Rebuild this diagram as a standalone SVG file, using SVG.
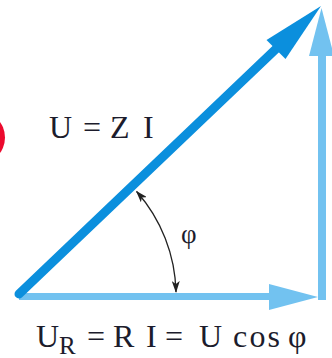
<svg xmlns="http://www.w3.org/2000/svg" width="332" height="358" viewBox="0 0 332 358">
<style>
.t{font-family:"Liberation Serif","Times New Roman",serif;fill:#1c1c2c;font-size:32px}
.light{stroke:#72c2f0;fill:none}
.lighth{fill:#72c2f0}
.dark{stroke:#0b8fdd;fill:none}
.darkh{fill:#0b8fdd}
.arc{stroke:#222;stroke-width:1.3;fill:none}
</style>
<defs>
<marker id="ah" viewBox="0 0 12 8" refX="11" refY="4" markerWidth="12" markerHeight="8" markerUnits="userSpaceOnUse" orient="auto-start-reverse">
<path d="M0,0 L12,4 L0,8 L3,4 Z" fill="#222"/>
</marker>
</defs>
<rect width="332" height="358" fill="#fff"/>
<circle id="red-mark" cx="-21.5" cy="137.5" r="26.5" fill="#ec0a2e"/>
<g id="connectors">
<g id="ur-vector">
<line class="light" x1="19" y1="296.5" x2="272" y2="296.5" stroke-width="7"/>
<polygon class="lighth" points="269,284 318,297 269,310"/>
</g>
<g id="ux-vector">
<line class="light" x1="322" y1="300" x2="322" y2="53" stroke-width="8"/>
<polygon class="lighth" points="309,56 321.5,8 334,56"/>
</g>
<g id="u-vector">
<line class="dark" x1="19" y1="294" x2="278" y2="47" stroke-width="9" stroke-linecap="round"/>
<polygon class="darkh" points="321,6 285.5,59 266.5,40"/>
</g>
<path id="angle-arc" class="arc" d="M176,292 A157,157 0 0 0 136.6,191.5" marker-start="url(#ah)" marker-end="url(#ah)"/>
</g>
<g id="label-u">
<text class="t" y="138"><tspan x="49">U</tspan><tspan x="83">=</tspan><tspan x="110">Z</tspan><tspan x="143">I</tspan></text>
</g>
<g id="label-phi">
<text class="t" x="181" y="243" style="font-size:27px">φ</text>
</g>
<g id="label-ur">
<text class="t" y="347"><tspan x="36">U</tspan><tspan x="59" y="354" style="font-size:25px">R</tspan><tspan x="87" y="347">=</tspan><tspan x="113">R</tspan><tspan x="146">I</tspan><tspan x="165">=</tspan><tspan x="199">U</tspan><tspan x="233" textLength="47">cos</tspan><tspan x="288">φ</tspan></text>
</g>
</svg>
